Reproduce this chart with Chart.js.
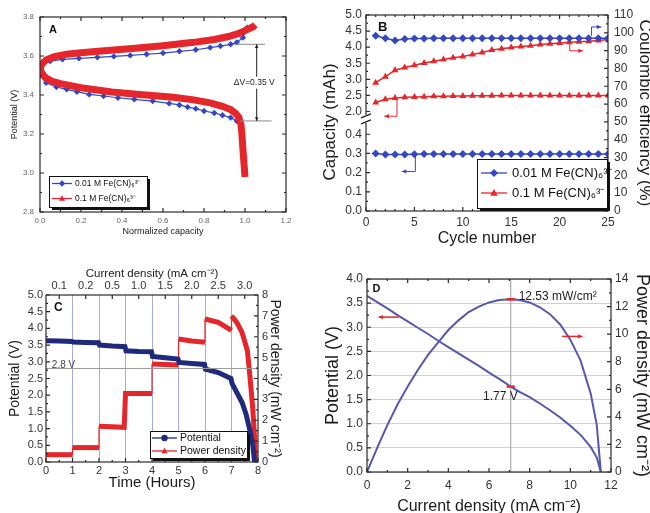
<!DOCTYPE html>
<html>
<head>
<meta charset="utf-8">
<script src="https://cdn.jsdelivr.net/npm/chart.js@4.4.1/dist/chart.umd.min.js"></script>
<style>
html, body { margin:0; padding:0; background:#fff; overflow:hidden; width:650px; height:513px; }
canvas { position:absolute; }
</style>
</head>
<body>
<canvas id="cA" width="322" height="245" style="left:0;top:0"></canvas>
<canvas id="cB" width="340" height="250" style="left:320px;top:0"></canvas>
<canvas id="cC" width="322" height="263" style="left:0;top:250px"></canvas>
<canvas id="cD" width="340" height="270" style="left:320px;top:250px"></canvas>
<script>
const FONT = '"Liberation Sans", Arial, sans-serif';
Chart.defaults.font.family = FONT;

// A: charge / discharge curves (normalized capacity, V)
const aCapBlueUp = [0.0,0.02,0.05,0.11,0.19,0.28,0.36,0.44,0.52,0.60,0.68,0.76,0.83,0.88,0.93,0.96,0.99,1.01];
const aVBlueUp   = [3.55,3.565,3.574,3.583,3.588,3.593,3.598,3.603,3.609,3.615,3.624,3.632,3.643,3.651,3.660,3.670,3.694,3.745];
const aCapBlueDn = [0,0.03,0.08,0.13,0.18,0.24,0.31,0.38,0.46,0.55,0.63,0.68,0.72,0.76,0.80,0.85,0.89,0.93,0.96,0.98,0.995,1.0];
const aVBlueDn   = [3.50,3.463,3.441,3.429,3.417,3.403,3.395,3.386,3.378,3.369,3.357,3.349,3.338,3.330,3.318,3.308,3.296,3.284,3.267,3.232,3.147,2.985];
const aCapRedUp  = [0.0,0.01,0.03,0.07,0.13,0.2,0.3,0.45,0.6,0.75,0.85,0.92,0.97,1.01,1.04,1.05];
const aVRedUp    = [3.535,3.56,3.58,3.597,3.609,3.617,3.626,3.639,3.653,3.670,3.685,3.700,3.716,3.735,3.750,3.760];
const aCapRedDn  = [0.0,0.01,0.03,0.06,0.1,0.2,0.35,0.5,0.65,0.75,0.83,0.89,0.93,0.955,0.97,0.98,0.985,0.99,0.995,1.0];
const aVRedDn    = [3.535,3.51,3.486,3.47,3.458,3.437,3.415,3.401,3.388,3.375,3.36,3.342,3.325,3.305,3.285,3.25,3.2,3.12,3.05,2.98];

// B: cycling
const bCycles  = [1,2,3,4,5,6,7,8,9,10,11,12,13,14,15,16,17,18,19,20,21,22,23,24,25];
const bCeLow   = [98.3,97.0,95.7,96.5,96.8,96.8,96.9,96.9,96.9,96.9,97.0,97.0,97.0,97.0,97.0,97.0,97.0,97.0,97.0,97.0,97.0,97.0,97.0,97.0,97.0];
const bCeHigh  = [72.0,75.4,79.0,80.5,81.8,83.0,84.0,85.0,86.0,86.7,87.8,89.0,90.4,91.0,91.8,92.3,92.8,93.4,93.8,94.3,94.7,95.0,95.2,95.7,96.3];
const bCapLow  = [0.300,0.294,0.294,0.295,0.296,0.297,0.297,0.297,0.297,0.297,0.297,0.297,0.297,0.297,0.297,0.297,0.297,0.297,0.297,0.297,0.297,0.297,0.297,0.297,0.297];
const bCapHigh = [2.28,2.38,2.42,2.44,2.45,2.46,2.47,2.47,2.48,2.48,2.49,2.49,2.49,2.50,2.50,2.50,2.50,2.50,2.50,2.50,2.50,2.50,2.50,2.50,2.50];

// C: discharge at stepped current
const cTimeV = [0,0.5,0.98,1.02,1.5,1.98,2.02,2.5,2.98,3.02,3.5,3.98,4.02,4.5,4.98,5.02,5.5,5.98,6.02,6.5,6.98,7.02,7.2,7.4,7.55,7.7,7.8,7.87];
const cPot   = [3.63,3.62,3.61,3.59,3.58,3.57,3.50,3.47,3.45,3.33,3.31,3.30,3.16,3.12,3.08,2.98,2.95,2.92,2.78,2.68,2.50,2.35,2.08,1.78,1.43,0.93,0.53,0.0];
const cTimeP = [0,1,1,2,2,2.95,3,4,4,5,5,5.5,6,6,6.5,7,7,7.2,7.4,7.6,7.7,7.8,7.87,7.9];
const cPow   = [0.35,0.35,0.69,0.69,1.71,1.66,3.28,3.28,4.70,4.65,5.89,5.80,5.74,6.85,6.69,6.30,7.00,6.69,6.20,5.33,4.05,2.60,1.17,0];
const cCurrentLabels = ['0.1','0.2','0.5','1.0','1.5','2.0','2.5','3.0'];

// D: polarization
const dCurrent = [0,0.5,1,1.5,2,2.5,3,3.5,4,4.5,5,5.5,6,6.5,7.07,7.5,8,8.5,9,9.5,10,10.5,11,11.3,11.5];
const dPot     = [3.65,3.52,3.39,3.25,3.12,2.99,2.86,2.72,2.59,2.46,2.33,2.2,2.06,1.93,1.77,1.66,1.55,1.42,1.28,1.13,0.96,0.77,0.52,0.3,0];
const dPow     = [0,1.75,3.4,4.9,6.2,7.4,8.5,9.4,10.3,11.0,11.6,12.0,12.3,12.47,12.53,12.48,12.3,11.95,11.45,10.7,9.6,8.1,5.7,3.4,0];

const BLUE = '#3447c4', RED = '#e5262b', NAVY = '#1f2a7c', SLATE = '#5659aa';

const pts = (xs, ys) => xs.map((x, i) => ({x, y: ys[i]}));
const fixW = w => s => { s.width = w; };
const fixH = h => s => { s.height = h; };
const f1 = v => Number(v).toFixed(1);
const f0 = v => Math.round(v).toString();

function marker(ctx, style, x, y, r) {
  ctx.beginPath();
  if (style === 'triangle') {
    ctx.moveTo(x, y - r); ctx.lineTo(x + r * 0.95, y + r * 0.7); ctx.lineTo(x - r * 0.95, y + r * 0.7);
  } else if (style === 'rectRot') {
    ctx.moveTo(x, y - r); ctx.lineTo(x + r, y); ctx.lineTo(x, y + r); ctx.lineTo(x - r, y);
  } else {
    ctx.arc(x, y, r, 0, Math.PI * 2);
  }
  ctx.closePath(); ctx.fill();
}

// plot frame + inward major/minor ticks
const frame = {
  id: 'frame',
  afterDatasetsDraw(chart, args, o) {
    const {ctx, chartArea: a} = chart;
    ctx.save();
    ctx.strokeStyle = '#2a2a2a'; ctx.lineWidth = 1.2;
    ctx.strokeRect(a.left, a.top, a.right - a.left, a.bottom - a.top);
    const L = o.len || 4;
    const sides = {};
    Object.values(chart.scales).forEach(s => { sides[s.position] = true; });
    const opp = {left: 'right', right: 'left', top: 'bottom', bottom: 'top'};
    Object.values(chart.scales).forEach(s => {
      const vals = s.ticks.map(t => t.value);
      const n = (o.minor && o.minor[s.id]) || 0;
      const marks = [];
      vals.forEach((v, i) => {
        marks.push([v, L]);
        if (i < vals.length - 1) for (let k = 1; k <= n; k++) marks.push([v + (vals[i + 1] - v) * k / (n + 1), L / 2]);
      });
      const where = [s.position];
      if (!sides[opp[s.position]]) where.push(opp[s.position]);
      ctx.beginPath();
      marks.forEach(([v, l]) => {
        const p = s.getPixelForValue(v);
        where.forEach(side => {
          if (side === 'left') { ctx.moveTo(a.left, p); ctx.lineTo(a.left + l, p); }
          if (side === 'right') { ctx.moveTo(a.right, p); ctx.lineTo(a.right - l, p); }
          if (side === 'bottom') { ctx.moveTo(p, a.bottom); ctx.lineTo(p, a.bottom - l); }
          if (side === 'top') { ctx.moveTo(p, a.top); ctx.lineTo(p, a.top + l); }
        });
      });
      ctx.stroke();
    });
    ctx.restore();
  }
};

// text, guide lines and arrows placed in data units
const notes = {
  id: 'notes',
  afterDatasetsDraw(chart, args, o) {
    const ctx = chart.ctx;
    (o.items || []).forEach(it => {
      const sx = chart.scales[it.xAxis || 'x'], sy = chart.scales[it.yAxis || 'y'];
      const px = p => [sx.getPixelForValue(p[0]), sy.getPixelForValue(p[1])];
      ctx.save();
      ctx.strokeStyle = ctx.fillStyle = it.color || '#222';
      ctx.lineWidth = it.lw || 1;
      if (it.text) {
        const [x, y] = px(it.at);
        ctx.font = it.font;
        ctx.textAlign = it.align || 'center';
        ctx.textBaseline = 'middle';
        if (it.bg) {
          const w = ctx.measureText(it.text).width;
          const x0 = it.align === 'left' ? x : x - w / 2;
          ctx.fillStyle = it.bg; ctx.fillRect(x0 - 2, y - 6, w + 4, 12);
          ctx.fillStyle = it.color || '#222';
        }
        ctx.fillText(it.text, x, y);
      } else {
        const P = it.path.map(px);
        ctx.beginPath();
        P.forEach((p, i) => i ? ctx.lineTo(p[0], p[1]) : ctx.moveTo(p[0], p[1]));
        ctx.stroke();
        const head = (s, e) => {
          const ang = Math.atan2(e[1] - s[1], e[0] - s[0]), h = it.head || 5;
          ctx.beginPath(); ctx.moveTo(e[0], e[1]);
          ctx.lineTo(e[0] - h * Math.cos(ang - 0.45), e[1] - h * Math.sin(ang - 0.45));
          ctx.lineTo(e[0] - h * Math.cos(ang + 0.45), e[1] - h * Math.sin(ang + 0.45));
          ctx.closePath(); ctx.fill();
        };
        if (it.end) head(P[P.length - 2], P[P.length - 1]);
        if (it.start) head(P[1], P[0]);
      }
      ctx.restore();
    });
  }
};

// boxed legend with dark drop shadow
const boxLegend = {
  id: 'boxLegend',
  afterDraw(chart, args, o) {
    if (!o.w) return;
    const ctx = chart.ctx;
    ctx.save();
    ctx.fillStyle = '#111'; ctx.fillRect(o.x + 3, o.y + 3, o.w, o.h);
    ctx.fillStyle = '#fff'; ctx.fillRect(o.x, o.y, o.w, o.h);
    ctx.strokeStyle = '#111'; ctx.lineWidth = 1; ctx.strokeRect(o.x + 0.5, o.y + 0.5, o.w, o.h);
    ctx.font = o.font; ctx.textBaseline = 'middle'; ctx.textAlign = 'left';
    chart.data.datasets.filter(d => d.label).forEach((d, i) => {
      const y = o.y + o.row0 + i * o.dy;
      ctx.strokeStyle = d.borderColor; ctx.fillStyle = d.borderColor; ctx.lineWidth = 1.3;
      ctx.beginPath(); ctx.moveTo(o.x + o.l0, y); ctx.lineTo(o.x + o.l1, y); ctx.stroke();
      marker(ctx, d.pointStyle, o.x + (o.l0 + o.l1) / 2, y, o.r);
      ctx.fillStyle = '#111'; ctx.fillText(d.label, o.x + o.tx, y);
    });
    ctx.restore();
  }
};

const base = {
  animation: false, responsive: false, devicePixelRatio: 1,
  plugins: {legend: {display: false}, tooltip: {enabled: false}},
  elements: {line: {tension: 0}}
};
const noGrid = {display: false, drawTicks: false};
const tk = (size, color, pad, cb, extra) => Object.assign({font: {size}, color, padding: pad, callback: cb, autoSkip: false, maxRotation: 0}, extra || {});
const ttl = (text, size, padding) => ({display: true, text, color: '#1a1a1a', font: {size}, padding});

// ---------- A ----------
new Chart(document.getElementById('cA'), {
  type: 'line',
  data: {datasets: [
    {label: '0.01 M Fe(CN)₆³⁻', data: pts(aCapBlueUp, aVBlueUp), borderColor: BLUE, backgroundColor: BLUE,
     pointStyle: 'rectRot', pointRadius: 3.2, pointBorderWidth: 0, borderWidth: 1.2, order: 2},
    {data: pts(aCapBlueDn, aVBlueDn), borderColor: BLUE, backgroundColor: BLUE, pointStyle: 'rectRot',
     pointRadius: c => c.dataIndex >= aCapBlueDn.length - 2 ? 0 : 3.2, pointBorderWidth: 0, borderWidth: 1.2, order: 2},
    {label: '0.1 M Fe(CN)₆³⁻', data: pts(aCapRedUp, aVRedUp), borderColor: RED, backgroundColor: RED,
     pointStyle: 'triangle', pointRadius: 0, borderWidth: 7, order: 1},
    {data: pts(aCapRedDn, aVRedDn), borderColor: RED, backgroundColor: RED, pointRadius: 0, borderWidth: 7, order: 1}
  ]},
  options: Object.assign({}, base, {
    layout: {padding: {top: 17, right: 36}},
    scales: {
      x: {type: 'linear', min: 0, max: 1.2, grid: noGrid, border: {display: false},
          ticks: tk(8, '#666', 4, f1, {stepSize: 0.2}), title: ttl('Normalized capacity', 9, {bottom: 7.6}), afterFit: fixH(33)},
      y: {type: 'linear', min: 2.8, max: 3.8, grid: noGrid, border: {display: false},
          ticks: tk(8, '#666', 6, f1, {stepSize: 0.2}), title: ttl('Potential (V)', 9, {top: 9.6}), afterFit: fixW(40)}
    },
    plugins: Object.assign({}, base.plugins, {
      frame: {len: 4, minor: {x: 1, y: 1}},
      notes: {items: [
        {text: 'A', at: [0.063, 3.733], font: 'bold 11px ' + FONT, color: '#111'},
        {path: [[0.943, 3.66], [1.098, 3.66]], color: '#8a8a8a'},
        {path: [[0.976, 3.267], [1.13, 3.267]], color: '#8a8a8a'},
        {path: [[1.057, 3.66], [1.057, 3.267]], color: '#222', start: true, end: true, head: 4},
        {text: 'ΔV=0.35 V', at: [1.045, 3.463], font: '8.5px ' + FONT, color: '#222', bg: '#fff'}
      ]},
      boxLegend: {x: 49, y: 176, w: 98, h: 31, row0: 7.5, dy: 15, l0: 3, l1: 23, r: 3.2, tx: 26, font: '8.5px ' + FONT}
    })
  }),
  plugins: [frame, notes, boxLegend]
});

// ---------- B ----------
const bExtras = {
  id: 'bExtras',
  afterDraw(chart) {
    const {ctx, chartArea: a} = chart, yb = chart.scales.yLow.top;
    ctx.save();
    ctx.fillStyle = '#fff'; ctx.fillRect(a.left - 5, yb - 4, 10, 8);
    ctx.strokeStyle = '#222'; ctx.lineWidth = 1.2;
    ctx.beginPath();
    ctx.moveTo(a.left - 5, yb - 1); ctx.lineTo(a.left + 5, yb - 5);
    ctx.moveTo(a.left - 5, yb + 5); ctx.lineTo(a.left + 5, yb + 1);
    ctx.stroke();
    ctx.translate(10, (a.top + a.bottom) / 2 + 9); ctx.rotate(-Math.PI / 2);
    ctx.font = '17px ' + FONT; ctx.fillStyle = '#1a1a1a'; ctx.textAlign = 'center'; ctx.textBaseline = 'middle';
    ctx.fillText('Capacity (mAh)', 0, 0);
    ctx.restore();
  }
};
new Chart(document.getElementById('cB'), {
  type: 'line',
  data: {datasets: [
    {label: '0.01 M Fe(CN)₆³⁻', data: pts(bCycles, bCeLow), yAxisID: 'yR', borderColor: BLUE, backgroundColor: BLUE,
     pointStyle: 'rectRot', pointRadius: 4, pointBorderWidth: 0, borderWidth: 1.5},
    {data: pts(bCycles, bCapLow), yAxisID: 'yLow', borderColor: BLUE, backgroundColor: BLUE,
     pointStyle: 'rectRot', pointRadius: 4, pointBorderWidth: 0, borderWidth: 1.5},
    {label: '0.1 M Fe(CN)₆³⁻', data: pts(bCycles, bCeHigh), yAxisID: 'yR', borderColor: RED, backgroundColor: RED,
     pointStyle: 'triangle', pointRadius: 4, pointBorderWidth: 0, borderWidth: 1.5},
    {data: pts(bCycles, bCapHigh), yAxisID: 'yUp', borderColor: RED, backgroundColor: RED,
     pointStyle: 'triangle', pointRadius: 4, pointBorderWidth: 0, borderWidth: 1.5}
  ]},
  options: Object.assign({}, base, {
    layout: {padding: {top: 15}},
    scales: {
      x: {type: 'linear', min: 0, max: 25, grid: noGrid, border: {display: false},
          ticks: tk(12, '#333', 4, f0, {stepSize: 5}), title: ttl('Cycle number', 16, {bottom: 1.4}), afterFit: fixH(39)},
      yLow: {type: 'linear', position: 'left', stack: 'cap', stackWeight: 0.47, min: 0, max: 0.48, grid: noGrid, border: {display: false},
             ticks: tk(12, '#333', 4, f1, {stepSize: 0.1, includeBounds: false}), afterFit: fixW(46)},
      yUp: {type: 'linear', position: 'left', stack: 'cap', stackWeight: 0.53, min: 1.77, max: 5, grid: noGrid, border: {display: false},
            ticks: tk(12, '#333', 4, f1, {stepSize: 0.5, includeBounds: false}), afterFit: fixW(46)},
      yR: {type: 'linear', position: 'right', min: 0, max: 110, grid: noGrid, border: {display: false},
           ticks: tk(12, '#333', 6, f0, {stepSize: 10}), title: ttl('Coulombic efficiency (%)', 17, {top: 5}), afterFit: fixW(52)}
    },
    plugins: Object.assign({}, base.plugins, {
      frame: {len: 4, minor: {x: 4, yUp: 1, yLow: 1, yR: 1}},
      notes: {items: [
        {text: 'B', at: [1.72, 103], yAxis: 'yR', font: 'bold 13px ' + FONT, color: '#111'},
        {path: [[23.3, 98.3], [23.3, 103.3], [24.3, 103.3]], yAxis: 'yR', color: BLUE, end: true, head: 5},
        {path: [[21.05, 94.6], [21.05, 89.9], [22.4, 89.9]], yAxis: 'yR', color: RED, end: true, head: 5},
        {path: [[3.2, 62.6], [3.2, 53.2], [1.9, 53.2]], yAxis: 'yR', color: RED, end: true, head: 5},
        {path: [[5.1, 30.6], [5.1, 22.2], [3.7, 22.2]], yAxis: 'yR', color: BLUE, end: true, head: 5}
      ]},
      boxLegend: {x: 157, y: 159, w: 130, h: 49, row0: 14, dy: 20, l0: 4, l1: 30, r: 4, tx: 35, font: '13px ' + FONT}
    })
  }),
  plugins: [frame, notes, boxLegend, bExtras]
});

// ---------- C ----------
new Chart(document.getElementById('cC'), {
  type: 'line',
  data: {datasets: [
    {label: 'Potential', data: pts(cTimeV, cPot), yAxisID: 'y', borderColor: NAVY, backgroundColor: NAVY,
     pointStyle: 'circle', pointRadius: 0, borderWidth: 5},
    {label: 'Power density', data: pts(cTimeP, cPow), yAxisID: 'yR', borderColor: RED, backgroundColor: RED,
     pointStyle: 'triangle', pointRadius: 0, borderWidth: 5,
     segment: {borderWidth: c => c.p0.parsed.x === c.p1.parsed.x ? 1.2 : 5}}
  ]},
  options: Object.assign({}, base, {
    layout: {padding: {top: 15, right: 34, bottom: 16}},
    scales: {
      x: {type: 'linear', min: 0, max: 8, border: {display: false},
          grid: {drawTicks: false, lineWidth: 1, color: c => (c.tick && c.tick.value > 0 && c.tick.value < 8) ? '#a9a9dc' : 'rgba(0,0,0,0)'},
          ticks: tk(11, '#333', 2, f0, {stepSize: 1}), title: ttl('Time (Hours)', 15, {bottom: 5}), afterFit: fixH(35)},
      x2: {type: 'linear', position: 'top', min: 0, max: 8, grid: noGrid, border: {display: false},
           afterBuildTicks: s => { s.ticks = cCurrentLabels.map((l, i) => ({value: i + 0.5})); },
           ticks: tk(11, '#333', 2, (v, i) => cCurrentLabels[i]),
           title: ttl('Current density (mA cm⁻²)', 11.5, {top: 2}), afterFit: fixH(30)},
      y: {type: 'linear', position: 'left', min: 0, max: 5, grid: noGrid, border: {display: false},
          ticks: tk(11, '#333', 3, f1, {stepSize: 0.5}), title: ttl('Potential (V)', 14, {top: 6.6}), afterFit: fixW(46)},
      yR: {type: 'linear', position: 'right', min: 0, max: 8, grid: noGrid, border: {display: false},
           ticks: tk(11, '#333', 4, f0, {stepSize: 1}), title: ttl('Power density (mW cm⁻²)', 14, {top: 4.6}), afterFit: fixW(30)}
    },
    plugins: Object.assign({}, base.plugins, {
      frame: {len: 4, minor: {x: 1, y: 1, yR: 1}},
      notes: {items: [
        {path: [[0, 2.8], [8, 2.8]], color: '#9a9a9a'},
        {text: '2.8 V', at: [0.66, 2.9], font: '10px ' + FONT, color: '#444'},
        {text: 'C', at: [0.47, 4.63], font: 'bold 12px ' + FONT, color: '#111'}
      ]},
      boxLegend: {x: 150, y: 181, w: 97, h: 27, row0: 7, dy: 13, l0: 2, l1: 27, r: 3.2, tx: 30, font: '10.5px ' + FONT}
    })
  }),
  plugins: [notes, frame, boxLegend]
});

// ---------- D ----------
new Chart(document.getElementById('cD'), {
  type: 'line',
  data: {datasets: [
    {data: pts(dCurrent, dPot), yAxisID: 'y', borderColor: SLATE, pointRadius: 0, borderWidth: 2},
    {data: pts(dCurrent, dPow), yAxisID: 'yR', borderColor: SLATE, pointRadius: 0, borderWidth: 2}
  ]},
  options: Object.assign({}, base, {
    layout: {padding: {top: 29, right: 4}},
    scales: {
      x: {type: 'linear', min: 0, max: 12, grid: noGrid, border: {display: false},
          ticks: tk(12, '#333', 6, f0, {stepSize: 2}), title: ttl('Current density (mA cm⁻²)', 16, {bottom: 3.4}), afterFit: fixH(48)},
      y: {type: 'linear', position: 'left', min: 0, max: 4, border: {display: false},
          grid: {drawTicks: false, color: '#d0d0d0', lineWidth: 1},
          ticks: tk(12, '#333', 4, f1, {stepSize: 0.5}), title: ttl('Potential (V)', 18, {top: 2}), afterFit: fixW(47)},
      yR: {type: 'linear', position: 'right', min: 0, max: 14, grid: noGrid, border: {display: false},
           ticks: tk(12, '#333', 4, f0, {stepSize: 2}), title: ttl('Power density (mW cm⁻²)', 18, {top: 3}), afterFit: fixW(45)}
    },
    plugins: Object.assign({}, base.plugins, {
      frame: {len: 4, minor: {x: 1, y: 1, yR: 1}},
      notes: {items: [
        {path: [[7.07, 0], [7.07, 4]], color: '#9a9a9a'},
        {path: [[6.87, 12.53], [7.27, 12.53]], yAxis: 'yR', color: RED, lw: 2.5},
        {path: [[6.87, 1.77], [7.27, 1.77]], color: RED, lw: 2.5},
        {text: '12.53 mW/cm²', at: [7.46, 12.74], yAxis: 'yR', align: 'left', font: '12px ' + FONT, color: '#222'},
        {text: '1.77 V', at: [6.56, 1.56], font: '12px ' + FONT, color: '#222'},
        {text: 'D', at: [0.46, 3.79], font: 'bold 11px ' + FONT, color: '#111'},
        {path: [[1.56, 3.21], [0.57, 3.21]], color: RED, lw: 1.5, end: true, head: 5},
        {path: [[9.6, 2.81], [10.6, 2.81]], color: RED, lw: 1.5, end: true, head: 5}
      ]}
    })
  }),
  plugins: [notes, frame]
});
</script>
</body>
</html>
